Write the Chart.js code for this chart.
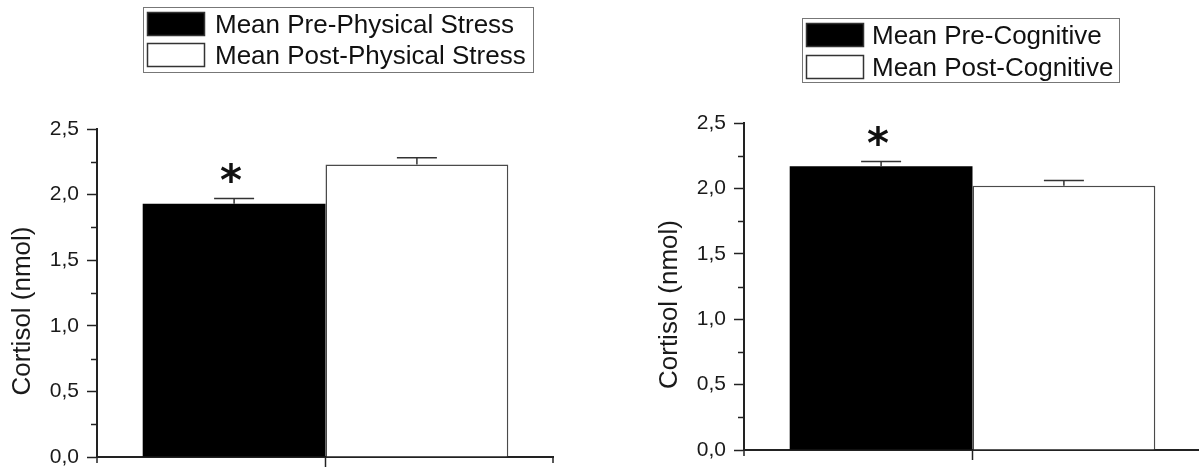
<!DOCTYPE html>
<html>
<head>
<meta charset="utf-8">
<script src="https://cdn.jsdelivr.net/npm/chart.js@4.4.1/dist/chart.umd.min.js"></script>
<style>
  html, body { margin: 0; padding: 0; background: #fff; overflow: hidden; width: 1199px; height: 468px; }
  .panel { position: absolute; top: 0; width: 554px; height: 468px; }
  #physical { left: 0; }
  #cognitive { left: 647px; }
</style>
</head>
<body>
<div class="panel" id="physical"><canvas id="physicalChart" width="554" height="468"></canvas></div>
<div class="panel" id="cognitive"><canvas id="cognitiveChart" width="554" height="468"></canvas></div>
<script>
const categories = [""];

const physicalLabels = ["Mean Pre-Physical Stress", "Mean Post-Physical Stress"];
const physicalMeans = [1.93, 2.23];
const physicalErrors = [0.04, 0.05];
const physicalSignificant = [true, false];

const cognitiveLabels = ["Mean Pre-Cognitive", "Mean Post-Cognitive"];
const cognitiveMeans = [2.17, 2.02];
const cognitiveErrors = [0.035, 0.04];
const cognitiveSignificant = [true, false];

const yTicks = [0, 0.5, 1, 1.5, 2, 2.5];
const yTickLabels = ["0,0", "0,5", "1,0", "1,5", "2,0", "2,5"];
const yMinorTicks = [0.25, 0.75, 1.25, 1.75, 2.25];
const yTitle = "Cortisol (nmol)";

Chart.defaults.font.family = '"Liberation Sans", Arial, sans-serif';

function line(ctx, x1, y1, x2, y2) {
  ctx.beginPath();
  ctx.moveTo(x1, y1);
  ctx.lineTo(x2, y2);
  ctx.stroke();
}

// error bars, asterisks, minor ticks, axis title and boxed legend
function extrasPlugin(errors, significant, legend) {
  return {
    id: "extras",
    afterDraw(chart) {
      const ctx = chart.ctx;
      const y = chart.scales.y;
      const area = chart.chartArea;
      ctx.save();
      ctx.strokeStyle = "#222";
      ctx.lineWidth = 1.5;

      // minor ticks on y
      yMinorTicks.forEach((v) => {
        const py = Math.round(y.getPixelForValue(v)) + 0.5;
        line(ctx, area.left - 6, py, area.left, py);
      });
      // axis ends below the x axis
      line(ctx, area.left, area.bottom, area.left, area.bottom + 6);
      line(ctx, area.right - 1, area.bottom, area.right - 1, area.bottom + 6);

      // error bars + asterisks
      chart.data.datasets.forEach((ds, i) => {
        const bar = chart.getDatasetMeta(i).data[0];
        const top = y.getPixelForValue(ds.data[0] + errors[i]);
        ctx.strokeStyle = "#333";
        line(ctx, bar.x, bar.y, bar.x, top);
        line(ctx, bar.x - 20, top, bar.x + 20, top);
        if (significant[i]) {
          ctx.fillStyle = "#111";
          ctx.font = 'bold 42px "DejaVu Sans"';
          ctx.textAlign = "center";
          ctx.textBaseline = "middle";
          ctx.fillText("*", bar.x - 3, top - 14);
        }
      });

      // y axis title
      ctx.save();
      ctx.translate(area.left - 74, (area.top + area.bottom) / 2 + 18);
      ctx.rotate(-Math.PI / 2);
      ctx.fillStyle = "#1a1a1a";
      ctx.font = '26px "Liberation Sans", Arial, sans-serif';
      ctx.textAlign = "center";
      ctx.textBaseline = "middle";
      ctx.fillText(yTitle, 0, 0);
      ctx.restore();

      // legend box
      ctx.strokeStyle = "#777";
      ctx.lineWidth = 1;
      ctx.strokeRect(legend.x + 0.5, legend.y + 0.5, legend.w, legend.h);
      ctx.font = '26px "Liberation Sans", Arial, sans-serif';
      ctx.textAlign = "left";
      ctx.textBaseline = "alphabetic";
      chart.data.datasets.forEach((ds, i) => {
        const sy = legend.y + 5 + i * legend.pitch;
        ctx.fillStyle = ds.backgroundColor;
        ctx.fillRect(legend.x + 4, sy, 58, 24);
        ctx.strokeStyle = "#333";
        ctx.lineWidth = 1.5;
        ctx.strokeRect(legend.x + 4.5, sy + 0.5, 57, 23);
        ctx.fillStyle = "#111";
        ctx.fillText(ds.label, legend.x + legend.textOffset, sy + 12 + 9.3);
      });
      ctx.restore();
    },
  };
}

function buildChart(canvasId, labels, means, errors, significant, legend, padding) {
  return new Chart(document.getElementById(canvasId), {
    type: "bar",
    data: {
      labels: categories,
      datasets: [
        {
          label: labels[0],
          data: [means[0]],
          backgroundColor: "#000",
          borderColor: "#000",
          borderWidth: 0,
        },
        {
          label: labels[1],
          data: [means[1]],
          backgroundColor: "#fff",
          borderColor: "#4a4a4a",
          borderWidth: 1.5,
        },
      ],
    },
    options: {
      responsive: false,
      animation: false,
      events: [],
      layout: { padding: { top: padding.top, bottom: padding.bottom, left: 0, right: 0 } },
      datasets: { bar: { categoryPercentage: 0.8, barPercentage: 1.0 } },
      plugins: { legend: { display: false }, tooltip: { enabled: false } },
      scales: {
        x: {
          z: 1,
          offset: true,
          ticks: { display: false },
          grid: {
            offset: false,
            drawOnChartArea: false,
            drawTicks: true,
            tickLength: 10,
            tickColor: "#222",
            tickWidth: 1.5,
          },
          border: { display: true, color: "#222", width: 2 },
          afterFit: (scale) => {
            scale.height = 11;
          },
        },
        y: {
          min: 0,
          max: 2.5,
          afterBuildTicks: (scale) => {
            scale.ticks = yTicks.map((v) => ({ value: v }));
          },
          ticks: {
            callback: (value, index) => yTickLabels[index],
            font: { size: 21, lineHeight: 1 },
            color: "#1a1a1a",
            padding: 8,
          },
          grid: {
            drawOnChartArea: false,
            drawTicks: true,
            tickLength: 10,
            tickColor: "#222",
            tickWidth: 1.5,
          },
          border: { color: "#222", width: 2 },
          afterFit: (scale) => {
            scale.width = 97;
            // labels may overhang the plot edges, the layout padding handles room
            scale.paddingTop = 0;
            scale.paddingBottom = 0;
          },
        },
      },
    },
    plugins: [extrasPlugin(errors, significant, legend)],
  });
}

buildChart(
  "physicalChart",
  physicalLabels,
  physicalMeans,
  physicalErrors,
  physicalSignificant,
  { x: 143, y: 7, w: 390, h: 65, pitch: 31, textOffset: 72 },
  { top: 129, bottom: 0 }
);

buildChart(
  "cognitiveChart",
  cognitiveLabels,
  cognitiveMeans,
  cognitiveErrors,
  cognitiveSignificant,
  { x: 155, y: 18, w: 317, h: 64, pitch: 32, textOffset: 70 },
  { top: 123, bottom: 7 }
);
</script>
</body>
</html>
